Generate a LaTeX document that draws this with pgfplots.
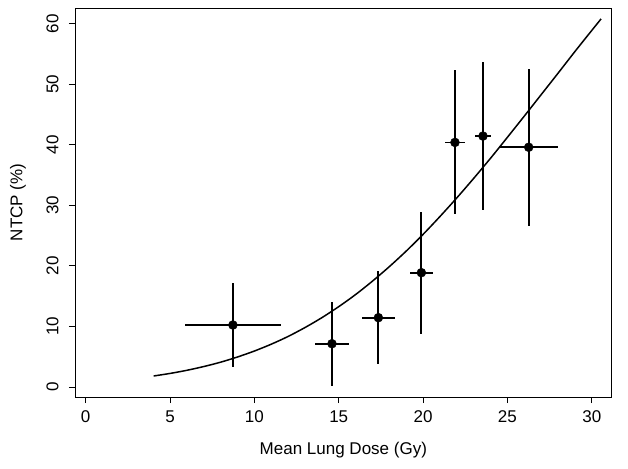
\documentclass[border=0pt]{standalone}
\usepackage{fontspec}
\setmainfont{Liberation Sans}
\usepackage{pgfplots}
\usepackage{pgfplotstable}
\pgfplotsset{compat=1.18}
\pgfplotstableread{
x y xp xm yp ym
8.73 10.24 2.83 2.83 6.96 6.89
14.60 7.15 1.01 0.99 6.94 6.93
17.35 11.45 1.00 0.99 7.65 7.70
19.90 18.88 0.69 0.70 10.02 10.08
21.89 40.40 0.59 0.57 11.90 11.90
23.55 41.45 0.45 0.46 12.25 12.25
26.26 39.60 1.72 1.74 13.00 13.00
}\pts
\begin{document}
\begin{tikzpicture}
\begin{axis}[
  scale only axis,
  width=536.7pt, height=389pt,
  xmin=-0.63, xmax=31.18,
  ymin=-1.65, ymax=62.6,
  xtick={0,5,10,15,20,25,30},
  ytick={0,10,20,30,40,50,60},
  tick align=outside,
  xtick pos=bottom, ytick pos=left,
  major tick length=6pt,
  every tick/.style={black, line width=0.9pt},
  axis line style={black, line width=0.9pt},
  tick label style={font=\fontsize{17}{20}\selectfont},
  label style={font=\fontsize{17}{20}\selectfont},
  /pgf/number format/assume math mode=true,
  yticklabel style={rotate=90, anchor=south, yshift=7pt},
  xticklabel style={yshift=-4pt},
  xlabel={Mean Lung Dose (Gy)},
  ylabel={NTCP (\%)},
  xlabel style={at={(axis description cs:0.5,0)}, anchor=center, yshift=-53pt},
  ylabel style={at={(axis description cs:-0.1062,0.5)}, anchor=center},
  clip=false,
]
\addplot[black, line width=1.5pt, smooth] coordinates {
(4.03,1.82) (5,2.24) (6,2.76) (7,3.38) (8,4.10) (9,4.96) (10,5.94) (11,7.07)
(12,8.35) (13,9.82) (14,11.45) (15,13.27) (16,15.27) (17,17.49) (18,19.88)
(19,22.45) (20,25.21) (21,28.16) (22,31.24) (23,34.46) (24,37.79) (25,41.25)
(26,44.75) (27,48.29) (28,51.83) (29,55.41) (30,58.90) (30.55,60.8)
};
\addplot[only marks, mark=*, mark size=4.5pt, black,
  error bars/.cd, x dir=both, x explicit, y dir=both, y explicit,
  error mark=none, error bar style={line width=1.8pt, black}]
  table[x=x, y=y, x error plus=xp, x error minus=xm, y error plus=yp, y error minus=ym] {\pts};
\end{axis}
\path[use as bounding box] (-75pt,-71pt) rectangle (553pt,397pt);
\end{tikzpicture}
\end{document}
